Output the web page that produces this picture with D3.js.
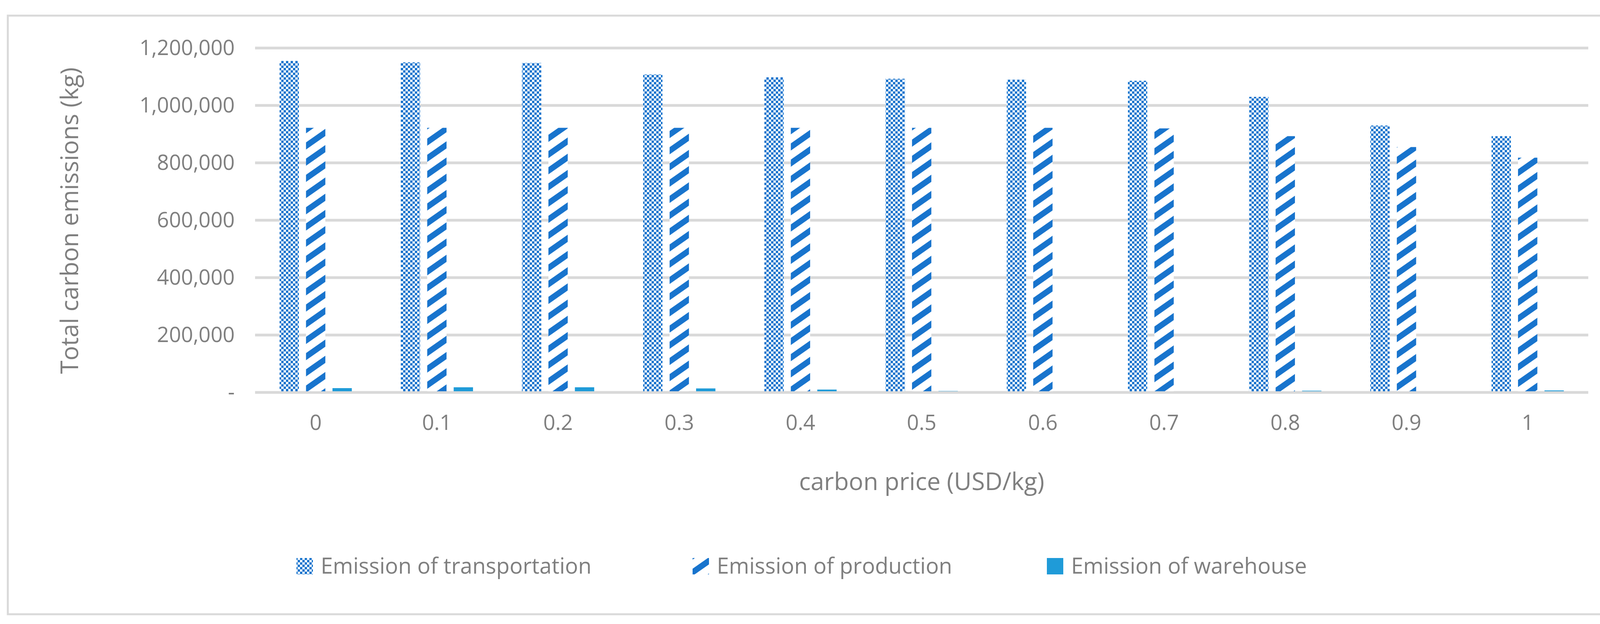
<!DOCTYPE html><html><head><meta charset="utf-8"><script src="https://cdn.jsdelivr.net/npm/d3@7"></script>
<style>body{margin:0;background:#fff}text{font-family:"Open Sans",sans-serif;fill:#7f7f7f}</style></head><body>
<svg id="c" width="4180" height="1598"></svg>
<script>
const categories=["0","0.1","0.2","0.3","0.4","0.5","0.6","0.7","0.8","0.9","1"];
const transportation=[1155000,1150000,1148000,1108000,1098000,1093000,1090000,1086000,1030000,930000,893000];
const production=[922000,922000,922000,922000,922000,922000,922000,920000,893000,855000,818000];
const warehouse=[15000,18000,18000,14000,10000,5000,2000,1500,6000,2000,7000];
const yTicks=[0,200000,400000,600000,800000,1000000,1200000];
const seriesNames=["Emission of transportation","Emission of production","Emission of warehouse"];
const series=[transportation,production,warehouse];
const fills=["url(#chk)","url(#diag)","#1f9bd8"];
const svg=d3.select("#c");
const defs=svg.append("defs");
const chk=defs.append("pattern").attr("id","chk").attr("patternUnits","userSpaceOnUse").attr("width",12).attr("height",12);
chk.append("rect").attr("width",12).attr("height",12).attr("fill","#fff");
chk.append("rect").attr("width",6).attr("height",6).attr("fill","#1874cd");
chk.append("rect").attr("x",6).attr("y",6).attr("width",6).attr("height",6).attr("fill","#1874cd");
const dg=defs.append("pattern").attr("id","diag").attr("patternUnits","userSpaceOnUse").attr("width",34).attr("height",34).attr("patternTransform","rotate(-35)");
dg.append("rect").attr("width",34).attr("height",34).attr("fill","#fff");
dg.append("rect").attr("width",34).attr("height",15).attr("fill","#1874cd");
svg.append("rect").attr("x",20).attr("y",40).attr("width",4134).attr("height",1533).attr("fill","none").attr("stroke","#d9d9d9").attr("stroke-width",5);
const L=653,R=4066,T=123,B=1005;
const x=d3.scaleBand().domain(categories).range([L,R]);
const y=d3.scaleLinear().domain([0,1200000]).range([B,T]);
const inner=d3.scaleBand().domain([0,1,2]).range([0,185]).paddingInner(0.27);
svg.append("g").selectAll("line").data(yTicks).join("line").attr("x1",L).attr("x2",R).attr("y1",d=>y(d)).attr("y2",d=>y(d)).attr("stroke","#d9d9d9").attr("stroke-width",7);
series.forEach((s,i)=>{
 svg.append("g").selectAll("rect").data(s).join("rect")
  .attr("x",(d,j)=>x(categories[j])+x.bandwidth()/2-92.5+inner(i)).attr("width",inner.bandwidth())
  .attr("y",d=>y(d)).attr("height",d=>B-y(d)-3).attr("fill",fills[i]);
});
const ya=svg.append("g").attr("transform",`translate(${L},0)`).call(d3.axisLeft(y).tickValues(yTicks).tickSize(0).tickPadding(52).tickFormat(d=>d===0?"-":d3.format(",")(d)));
ya.select(".domain").remove();
ya.selectAll("text").style("font-size","54px").attr("fill","#7f7f7f").attr("font-family","Open Sans");
const xa=svg.append("g").attr("transform",`translate(0,${B})`).call(d3.axisBottom(x).tickSize(0).tickPadding(58));
xa.select(".domain").remove();
xa.selectAll("text").style("font-size","54px").attr("fill","#7f7f7f").attr("font-family","Open Sans");
svg.append("text").attr("transform",`translate(200,565) rotate(-90)`).attr("text-anchor","middle").style("font-size","62px").text("Total carbon emissions (kg)");
svg.append("text").attr("x",(L+R)/2).attr("y",1255).attr("text-anchor","middle").style("font-size","62px").text("carbon price (USD/kg)");
const lx=[759,1773,2680];
seriesNames.forEach((n,i)=>{
 svg.append("rect").attr("x",lx[i]).attr("y",1429).attr("width",42).attr("height",42).attr("fill",fills[i]);
 svg.append("text").attr("x",lx[i]+62).attr("y",1469).style("font-size","56px").text(n);
});
</script></body></html>
